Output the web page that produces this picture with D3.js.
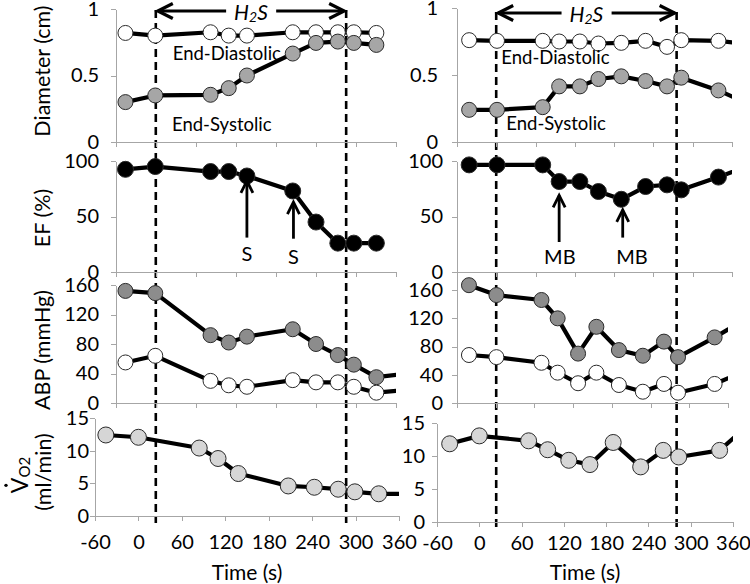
<!DOCTYPE html>
<html><head><meta charset="utf-8">
<script src="https://cdn.jsdelivr.net/npm/d3@7"></script>
<style>body{margin:0;background:#fff;} svg{display:block;}</style>
</head><body><svg id="c" width="750" height="584"></svg>
<script>
// ---------------- data ----------------
const upperTicksTime = [-30, 25, 80, 135, 190, 245, 300, 355];
const vo2TicksTime = [-60, 0, 60, 120, 180, 240, 300, 360];
const diamTicks = [0, 0.5, 1];
const efTicks = [0, 50, 100];
const abpTicks = [0, 40, 80, 120, 160];
const vo2Ticks = [0, 5, 10, 15];

// Left column (time, s)
const leftTime = [-17, 24, 100, 125, 150, 213, 245, 275, 297, 328];
const leftDiaDiam = [0.82, 0.80, 0.825, 0.80, 0.80, 0.825, 0.825, 0.825, 0.825, 0.82];
const leftSysDiam = [0.30, 0.35, 0.355, 0.405, 0.50, 0.665, 0.745, 0.755, 0.745, 0.73];
const leftEF = [92.5, 95, 90.5, 90.5, 86.5, 73, 45, 26, 26, 26];
const leftAbpTime = [-17, 24, 100, 125, 150, 213, 245, 275, 297, 328, 362];
const leftSysABP = [152, 149, 92, 82, 90, 100, 80, 65, 52, 35, 39];
const leftDiaABP = [55, 64, 30, 24, 22, 31, 28, 28, 22, 14, 17];
const leftVo2Time = [-45, 0, 84, 110, 138, 207, 243, 276, 299, 332, 365];
const leftVO2 = [12.4, 12.05, 10.4, 8.8, 6.5, 4.6, 4.4, 4.1, 3.7, 3.4, 3.4];

// Right column (time, s)
const rightTime = [-13, 26, 90, 113, 142, 168, 200, 234, 264, 284, 336, 380];
const rightDiaDiam = [0.76, 0.755, 0.755, 0.75, 0.75, 0.735, 0.74, 0.755, 0.71, 0.76, 0.755, 0.727];
const rightSysDiam = [0.24, 0.24, 0.26, 0.415, 0.415, 0.47, 0.49, 0.455, 0.415, 0.48, 0.385, 0.28];
const rightEF = [96.5, 96.5, 96.5, 81.5, 81.5, 72.5, 65.5, 77, 78.5, 74, 85.5, 96];
const rightSysABP = [167, 153, 146, 120, 70, 108, 75, 67, 87, 65, 93, 119];
const rightDiaABP = [68, 65, 57, 43, 28, 43, 25.5, 16, 27, 14.6, 27, 45.6];
const rightVo2Time = [-42, 0, 70, 97, 127, 157, 190, 229, 261, 283, 341, 390];
const rightVO2 = [11.85, 13.05, 12.3, 10.95, 9.35, 8.7, 12.05, 8.35, 10.85, 9.85, 10.85, 15.5];

// H2S window (s, on the VO2 time axis)
const leftH2S = [24, 287];
const rightH2S = [24, 280];

// EF events (arrows)
const leftEventLabel = ["S", "S"];
const leftEventTime = [150, 214];
const leftEventTip = [82, 63];
const leftEventTail = [31, 30];
const leftEventText = [17, 14];
const rightEventLabel = ["MB", "MB"];
const rightEventTime = [113, 202];
const rightEventLabelTime = [114, 215];
const rightEventTip = [69, 56];
const rightEventTail = [27, 31];
const rightEventText = [14, 14];

// ---------------- drawing ----------------
const W = 750, H = 584;
const FONT = "Lato, 'Open Sans', sans-serif";
const AXIS = "#a6a6a6";
const svg = d3.select("#c").style("font-family", FONT);
const defs = svg.append("defs");

const WHITE = "#ffffff", GRAY = "#a6a6a6", DGRAY = "#8c8c8c", BLACK = "#000000", LGRAY = "#d6d6d6";

const panels = [
  {x0:116, x1:396, y0:142, yT:9, xDom:[-30,355], yDom:[0,1], xTicks:upperTicksTime, yTicks:diamTicks, yPad:12, xLab:false,
   series:[{t:leftTime, v:leftDiaDiam, fill:WHITE, r:7.5},{t:leftTime, v:leftSysDiam, fill:GRAY, r:7.5}],
   labels:[{text:"End-Diastolic", t:48, v:0.67},{text:"End-Systolic", t:47, v:0.135}]},
  {x0:116, x1:396, y0:272, yT:161, xDom:[-30,355], yDom:[0,100], xTicks:upperTicksTime, yTicks:efTicks, yPad:12, xLab:false,
   series:[{t:leftTime, v:leftEF, fill:BLACK, r:8}],
   events:{label:leftEventLabel, t:leftEventTime, lt:leftEventTime, tip:leftEventTip, tail:leftEventTail, text:leftEventText}},
  {x0:116, x1:396, y0:403, yT:285, xDom:[-30,355], yDom:[0,160], xTicks:upperTicksTime, yTicks:abpTicks, yPad:12, xLab:false,
   series:[{t:leftAbpTime, v:leftSysABP, fill:DGRAY, r:7.5},{t:leftAbpTime, v:leftDiaABP, fill:WHITE, r:7.5}]},
  {x0:95, x1:399, y0:516, yT:418, xDom:[-60,360], yDom:[0,15], xTicks:vo2TicksTime, yTicks:vo2Ticks, yPad:1, xLab:true, xPad:14,
   series:[{t:leftVo2Time, v:leftVO2, fill:LGRAY, r:8}], vo2:true, h2s:leftH2S, dashTop:10, dashBot:523},

  {x0:457, x1:732, y0:142, yT:8, xDom:[-30,355], yDom:[0,1], xTicks:upperTicksTime, yTicks:diamTicks, yPad:14, xLab:false,
   series:[{t:rightTime, v:rightDiaDiam, fill:WHITE, r:7.5},{t:rightTime, v:rightSysDiam, fill:GRAY, r:7.5}],
   labels:[{text:"End-Diastolic", t:32, v:0.634},{text:"End-Systolic", t:39, v:0.142}]},
  {x0:457, x1:732, y0:272, yT:161, xDom:[-30,355], yDom:[0,100], xTicks:upperTicksTime, yTicks:efTicks, yPad:9, xLab:false,
   series:[{t:rightTime, v:rightEF, fill:BLACK, r:8}],
   events:{label:rightEventLabel, t:rightEventTime, lt:rightEventLabelTime, tip:rightEventTip, tail:rightEventTail, text:rightEventText}},
  {x0:457, x1:728, y0:403, yT:276, xDom:[-30,355], yDom:[0,180], xTicks:upperTicksTime, yTicks:abpTicks, yPad:9, xLab:false,
   series:[{t:rightTime, v:rightSysABP, fill:DGRAY, r:7.5},{t:rightTime, v:rightDiaABP, fill:WHITE, r:7.5}]},
  {x0:437, x1:733, y0:522, yT:423, xDom:[-60,360], yDom:[0,15], xTicks:vo2TicksTime, yTicks:vo2Ticks, yPad:7, xLab:true, xPad:9,
   series:[{t:rightVo2Time, v:rightVO2, fill:LGRAY, r:8}], vo2:true, h2s:rightH2S, dashTop:12, dashBot:530}
];

function arrow(g, x1, y1, x2, y2, len, half, w) {
  g.append("line").attr("x1", x1).attr("y1", y1).attr("x2", x2).attr("y2", y2)
    .attr("stroke", "#000").attr("stroke-width", w);
  const a = Math.atan2(y2 - y1, x2 - x1);
  const bx = x2 - len * Math.cos(a), by = y2 - len * Math.sin(a);
  const px = -Math.sin(a) * half, py = Math.cos(a) * half;
  g.append("path").attr("d", `M${bx + px},${by + py}L${x2},${y2}L${bx - px},${by - py}`)
    .attr("fill", "none").attr("stroke", "#000").attr("stroke-width", w)
    .attr("stroke-linejoin", "miter").attr("stroke-linecap", "butt");
}

const overlay = svg.append("g");

panels.forEach((p, i) => {
  const x = d3.scaleLinear().domain(p.xDom).range([p.x0, p.x1]);
  const y = d3.scaleLinear().domain(p.yDom).range([p.y0, p.yT]);
  const g = svg.append("g");

  const ax = g.append("g").attr("transform", `translate(0,${p.y0})`)
    .call(d3.axisBottom(x).tickValues(p.xTicks).tickSize(5).tickSizeOuter(0)
      .tickPadding(p.xPad || 3).tickFormat(p.xLab ? (d => String(d)) : ""));
  const ay = g.append("g").attr("transform", `translate(${p.x0},0)`)
    .call(d3.axisLeft(y).tickValues(p.yTicks).tickSize(5).tickSizeOuter(0)
      .tickPadding(p.yPad).tickFormat(d => String(d)));
  [ax, ay].forEach(a => {
    a.select(".domain").attr("stroke", AXIS).attr("shape-rendering", "crispEdges");
    a.selectAll(".tick line").attr("stroke", AXIS).attr("shape-rendering", "crispEdges");
    a.selectAll(".tick text").attr("fill", "#000").style("font-family", FONT).style("font-size", "20px");
  });

  const cid = "clip" + i;
  defs.append("clipPath").attr("id", cid).append("rect")
    .attr("x", 0).attr("y", 0).attr("width", p.x1).attr("height", H);
  const sg = g.append("g").attr("clip-path", `url(#${cid})`);

  const line = d3.line().x(d => x(d[0])).y(d => y(d[1]));
  const data = p.series.map(s => s.t.map((t, k) => [t, s.v[k]]));
  data.forEach(pts => {
    sg.append("path").datum(pts).attr("d", line).attr("fill", "none")
      .attr("stroke", "#000").attr("stroke-width", 4.2).attr("stroke-linejoin", "round");
  });
  data.forEach((pts, k) => {
    const s = p.series[k];
    sg.selectAll(null).data(pts.filter(d => d[0] <= p.xDom[1])).enter().append("circle")
      .attr("cx", d => x(d[0])).attr("cy", d => y(d[1])).attr("r", s.r)
      .attr("fill", s.fill).attr("stroke", "#2a2a2a").attr("stroke-width", 1);
  });

  if (p.labels) {
    p.labels.forEach(l => {
      g.append("text").attr("x", x(l.t)).attr("y", y(l.v)).attr("dominant-baseline", "central")
        .style("font-size", "18.5px").text(l.text);
    });
  }
  if (p.events) {
    const e = p.events;
    e.label.forEach((lab, k) => {
      arrow(g, x(e.t[k]), y(e.tail[k]), x(e.t[k]), y(e.tip[k]), 12, 6, 2.8);
      g.append("text").attr("x", x(e.lt[k])).attr("y", y(e.text[k])).attr("text-anchor", "middle")
        .attr("dominant-baseline", "central").style("font-size", "20px").text(lab);
    });
  }
  if (p.vo2) {
    p.h2s.forEach(t => {
      overlay.append("line").attr("x1", x(t)).attr("x2", x(t)).attr("y1", p.dashTop).attr("y2", p.dashBot)
        .attr("stroke", "#000").attr("stroke-width", 2.6).attr("stroke-dasharray", "8,5");
    });
    const xa = x(p.h2s[0]) + 2, xb = x(p.h2s[1]) - 2, ya = p.dashTop + 1;
    const mid = (xa + xb) / 2;
    const tx = overlay.append("text").attr("x", mid).attr("y", ya).attr("text-anchor", "middle")
      .attr("dominant-baseline", "central").style("font-size", "21px").style("font-style", "italic");
    tx.append("tspan").text("H");
    tx.append("tspan").attr("dy", 5).style("font-size", "14px").text("2");
    tx.append("tspan").attr("dy", -5).text("S");
    const bb = tx.node().getBBox();
    arrow(overlay, bb.x - 8, ya, xa, ya, 15, 7.5, 3.2);
    arrow(overlay, bb.x + bb.width + 8, ya, xb, ya, 15, 7.5, 3.2);
    g.append("text").attr("x", (p.x0 + p.x1) / 2).attr("y", 571).attr("text-anchor", "middle")
      .attr("dominant-baseline", "central").style("font-size", "21px").text("Time (s)");
  }
});

// ---- y-axis titles (left column) ----
function ytitle(txt, cx, cy) {
  svg.append("text").attr("transform", `translate(${cx},${cy}) rotate(-90)`)
    .attr("text-anchor", "middle").attr("dominant-baseline", "central")
    .style("font-size", "21.5px").text(txt);
}
ytitle("Diameter (cm)", 42, 71);
ytitle("EF (%)", 42, 218);
ytitle("ABP (mmHg)", 42, 350);
ytitle("(ml/min)", 43, 472);
// V̇O2
const vg = svg.append("g").attr("transform", "translate(19,475) rotate(-90)");
const vt = vg.append("text").attr("text-anchor", "middle").attr("dominant-baseline", "central")
  .style("font-size", "23px");
vt.append("tspan").text("V");
vt.append("tspan").attr("dy", 5).style("font-size", "15px").text("O2");
const vb = vt.node().getExtentOfChar(0);
vg.append("circle").attr("cx", vb.x + vb.width / 2).attr("cy", vb.y + 1).attr("r", 1.7).attr("fill", "#000");
</script></body></html>
